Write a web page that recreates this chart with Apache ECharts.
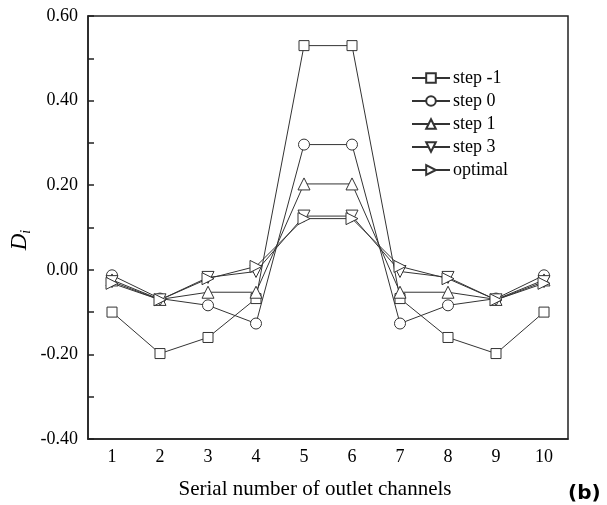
<!DOCTYPE html>
<html><head><meta charset="utf-8">
<script src="https://cdn.jsdelivr.net/npm/echarts@6/dist/echarts.min.js"></script>
<style>html,body{margin:0;padding:0;background:#fff}#c{width:607px;height:505px}</style>
</head><body><div id="c"></div>
<script>
const categories = ['1','2','3','4','5','6','7','8','9','10'];
const stepM1 = [-0.100,-0.198,-0.160,-0.068,0.530,0.530,-0.068,-0.160,-0.198,-0.100];
const step0  = [-0.013,-0.068,-0.084,-0.127,0.296,0.296,-0.127,-0.084,-0.068,-0.013];
const step1  = [-0.024,-0.070,-0.053,-0.053,0.203,0.203,-0.053,-0.053,-0.070,-0.024];
const step3  = [-0.028,-0.071,-0.018,-0.004,0.127,0.127,-0.004,-0.018,-0.071,-0.028];
const optimal= [-0.032,-0.071,-0.021,0.008,0.121,0.121,0.008,-0.021,-0.071,-0.032];
const seriesNames = ['step -1','step 0','step 1','step 3','optimal'];
const yTicks = {min:-0.4, max:0.6, interval:0.1};

const serif = 'Liberation Serif';
const mk = (name, data, symbol, rot) => ({
  name, type:'line', data, symbol, symbolSize: symbol==='rect'?10:(symbol==='circle'?11:12),
  symbolRotate: rot, showSymbol:true,
  lineStyle:{color:'#333', width:1},
  itemStyle:{color:'#fff', borderColor:'#333', borderWidth:1},
  emphasis:{disabled:true}, animation:false
});
const chart = echarts.init(document.getElementById('c'));
chart.setOption({
  animation:false,
  grid:{left:88, top:16, right:39, bottom:63, show:true, borderColor:'#222', borderWidth:1.5},
  legend:{
    orient:'vertical', left:406, top:64, itemWidth:38, itemHeight:12, itemGap:5,
    textStyle:{fontFamily:serif, fontSize:18, color:'#000', padding:[0,0,0,-2]},
    data: seriesNames
  },
  xAxis:{
    type:'category', data:categories, boundaryGap:true,
    name:'Serial number of outlet channels', nameLocation:'middle', nameGap:40,
    nameTextStyle:{fontFamily:serif, fontSize:21, color:'#000', padding:[0,26,0,0]},
    axisLine:{onZero:false, lineStyle:{color:'#222', width:1.5}},
    axisTick:{inside:true, alignWithLabel:true, length:6, lineStyle:{color:'#222', width:1.5}},
    axisLabel:{fontFamily:serif, fontSize:18, color:'#000', margin:9},
    splitLine:{show:false}
  },
  yAxis:{
    type:'value', min:yTicks.min, max:yTicks.max, interval:yTicks.interval,
    axisLine:{show:true, lineStyle:{color:'#222', width:1.5}},
    axisTick:{show:true, inside:true, length:6, lineStyle:{color:'#222', width:1.5}},
    axisLabel:{fontFamily:serif, fontSize:18, color:'#000', margin:10,
      formatter: v => (Math.round(v*10)%2===0) ? v.toFixed(2) : ''},
    splitLine:{show:false}
  },
  graphic:[
    {type:'text', left:568, top:484, style:{text:'(b)', font:'bold 20px "DejaVu Sans"', fill:'#000'}},
    {type:'text', x:20, y:240, rotation:Math.PI/2, style:{
      text:'{d|D}{s|i}', align:'center', verticalAlign:'middle',
      rich:{
        d:{fontFamily:serif, fontStyle:'italic', fontSize:23, fill:'#000', color:'#000'},
        s:{fontFamily:serif, fontStyle:'italic', fontSize:14, fill:'#000', color:'#000', padding:[12,0,0,0]}
      }}}
  ],
  series:[
    mk(seriesNames[0], stepM1, 'rect', 0),
    mk(seriesNames[1], step0, 'circle', 0),
    mk(seriesNames[2], step1, 'triangle', 0),
    mk(seriesNames[3], step3, 'triangle', 180),
    mk(seriesNames[4], optimal, 'triangle', -90)
  ]
});
</script></body></html>
